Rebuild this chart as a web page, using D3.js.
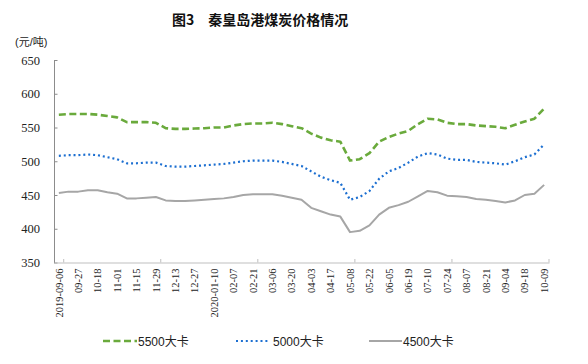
<!DOCTYPE html>
<html>
<head>
<meta charset="utf-8">
<script src="https://cdn.jsdelivr.net/npm/d3@7"></script>
<style>
  html, body { margin: 0; padding: 0; background: #fff; }
  svg { display: block; }
</style>
</head>
<body>
<div id="chart"></div>
<script>
// ---- data ----
const dates = [
  "2019-09-06","09-20","09-27","10-11","10-18","10-25","11-01","11-08","11-15","11-22",
  "11-29","12-06","12-13","12-20","12-27","01-03","2020-01-10","01-17","02-07","02-14",
  "02-21","02-28","03-06","03-13","03-20","03-27","04-03","04-10","04-17","04-24",
  "05-08","05-15","05-22","05-29","06-05","06-12","06-19","07-03","07-10","07-17",
  "07-24","07-31","08-07","08-14","08-21","08-28","09-04","09-11","09-18","09-25","10-09"
];
const kcal5500 = [
  569,570,570,570,569,567,565,558,558,558,
  557,549,548,548,548.5,549,550,550,553,555,
  556,556,557,555,552,549,541,535,531,529,
  501,503,512,529,536,541,545,555,563,562,
  557,555,555,553,552,551,549,554,559,563,578
];
const kcal5000 = [
  508,509,509,510,509,506,503,497,497,498,
  498,493,492,492,493,494,495,496,498,500,
  501,501,501,499,496,493,485,477,472,468,
  443,447,456,474,485,490,498,507,512,510,
  504,502,502,499,498,497,495,500,506,510,525
];
const kcal4500 = [
  453,455,455,457,457,454,452,445,445,446,
  447,442,441,441,442,443,444,445,447,450,
  451,451,451,449,446,443,431,426,421,418,
  395,397,405,421,431,435,440,448,456,454,
  449,448,447,444,443,441,439,442,450,452,465
];
const yTicks = [350,400,450,500,550,600,650];
const seriesNames = ["5500大卡","5000大卡","4500大卡"];
const title = "图3　秦皇岛港煤炭价格情况";
const unit = "(元/吨)";

// ---- layout ----
const W = 588, H = 364;
const svg = d3.select("#chart").append("svg").attr("width", W).attr("height", H);

const x = d3.scaleBand().domain(d3.range(dates.length)).range([54, 549]).padding(0);
const y = d3.scaleLinear().domain([350, 650]).range([262.5, 60]);
const cx = i => x(i) + x.bandwidth() / 2;

const axisColor = "#8c8c8c";

// title
svg.append("text").attr("x", 172).attr("y", 25)
  .attr("font-family", "'Noto Sans CJK SC', sans-serif").attr("font-size", 14)
  .attr("font-weight", "bold").attr("fill", "#111").text(title);
// unit
svg.append("text").attr("x", 15).attr("y", 46)
  .attr("font-family", "'Liberation Sans', 'Noto Sans CJK SC', sans-serif").attr("font-size", 11)
  .attr("fill", "#222").text(unit);

// y axis
const yAxis = d3.axisLeft(y).tickValues(yTicks).tickSizeInner(-3.5).tickSizeOuter(0).tickPadding(14);
const gy = svg.append("g").attr("transform", "translate(54,0)").call(yAxis);
gy.select(".domain").attr("stroke", axisColor);
gy.selectAll(".tick line").attr("stroke", axisColor);
gy.selectAll(".tick text").attr("font-family", "'Liberation Serif', serif").attr("font-size", 12.5).attr("fill", "#222");

// x axis
const xAxis = d3.axisBottom(x).tickSize(0).tickFormat(i => i % 2 === 0 ? dates[i] : "");
const gx = svg.append("g").attr("transform", "translate(0,262.5)").call(xAxis);
gx.select(".domain").attr("stroke", "#bfbfbf").attr("stroke-width", 1.2);
gx.selectAll(".tick text")
  .attr("font-family", "'Liberation Serif', serif").attr("font-size", 10.5).attr("fill", "#222")
  .attr("transform", "rotate(-90)").attr("text-anchor", "end")
  .attr("x", -6).attr("y", 0).attr("dy", "0.35em")
  .attr("dx", 0);
// x tick marks at band boundaries every 10 categories
const tickIdx = d3.range(0, dates.length, 10);
svg.append("g").selectAll("line").data(tickIdx).join("line")
  .attr("x1", i => x(i) + x.bandwidth()).attr("x2", i => x(i) + x.bandwidth())
  .attr("y1", 262.5).attr("y2", 259).attr("stroke", "#bfbfbf");

// lines
const line = d3.line().x((d, i) => cx(i)).y(d => y(d)).curve(d3.curveLinear);
const styles = [
  { data: kcal5500, color: "#6aaa3c", width: 2.6, dash: "7,3.5", cap: "butt" },
  { data: kcal5000, color: "#1c6fd1", width: 2.2, dash: "2,2.9", cap: "butt" },
  { data: kcal4500, color: "#a6a6a6", width: 2, dash: null, cap: "butt" }
];
styles.forEach(s => {
  svg.append("path").datum(s.data).attr("d", line)
    .attr("fill", "none").attr("stroke", s.color).attr("stroke-width", s.width)
    .attr("stroke-dasharray", s.dash).attr("stroke-linecap", s.cap)
    .attr("stroke-linejoin", "round");
});

// legend
const legendPos = [{ x1: 103, x2: 137, tx: 138 }, { x1: 236, x2: 268, tx: 273 }, { x1: 369, x2: 402, tx: 403 }];
const lg = svg.append("g");
legendPos.forEach((p, k) => {
  const s = styles[k];
  lg.append("line").attr("x1", p.x1).attr("x2", p.x2).attr("y1", 341).attr("y2", 341)
    .attr("stroke", s.color).attr("stroke-width", s.width).attr("stroke-dasharray", s.dash);
  lg.append("text").attr("x", p.tx).attr("y", 345.5)
    .attr("font-family", "'Liberation Sans', 'Noto Sans CJK SC', sans-serif").attr("font-size", 12)
    .attr("fill", "#222").text(seriesNames[k]);
});
</script>
</body>
</html>
